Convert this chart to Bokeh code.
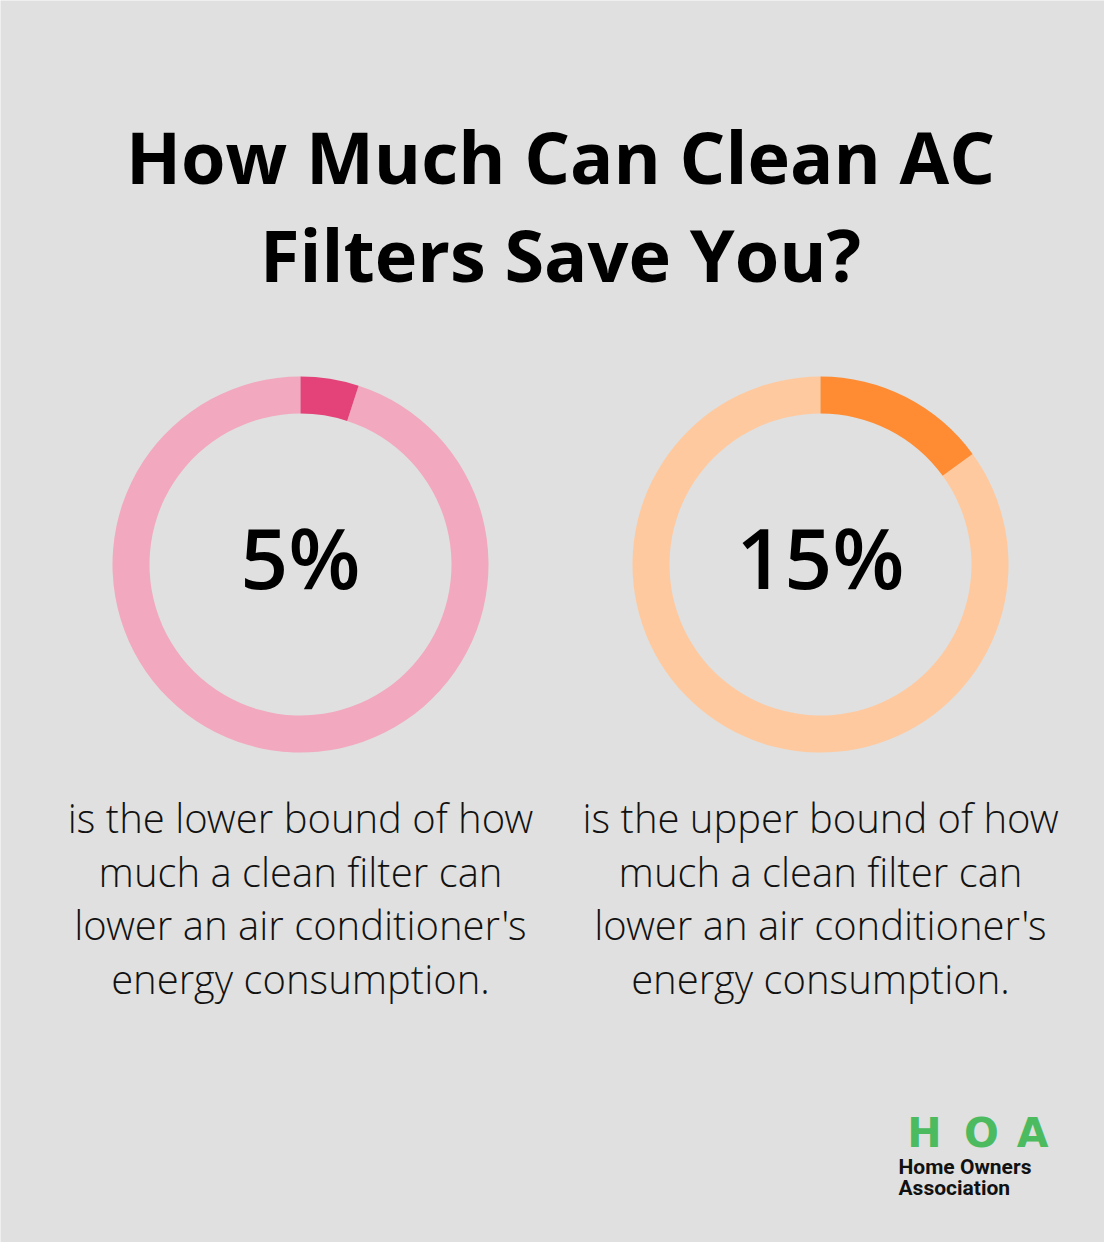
import math
from bokeh.plotting import figure
from bokeh.models import Range1d
from bokeh.core.properties import value
from bokeh.embed import file_html
from bokeh.resources import INLINE

# ---- data ----
title_lines = ["How Much Can Clean AC", "Filters Save You?"]
labels = ["5%", "15%"]
values = [5, 15]
descriptions = [
    ["is the lower bound of how", "much a clean filter can",
     "lower an air conditioner's", "energy consumption."],
    ["is the upper bound of how", "much a clean filter can",
     "lower an air conditioner's", "energy consumption."],
]
highlight_colors = ["#E4437A", "#FF8C33"]
track_colors = ["#F2A8BF", "#FFC99F"]
logo_letters = ["H", "O", "A"]
logo_sub = ["Home Owners", "Association"]

# ---- layout (pixel coords measured from top-left) ----
FW, FH = 1104, 1242
BG = "#DFE0DF"

def Y(y_img):
    return FH - y_img

def base(y_img, size):
    # compensate for where the renderer puts the alphabetic baseline
    return Y(y_img - 0.4 * size)

p = figure(width=FW, height=FH, output_backend="svg", toolbar_location=None,
           x_range=Range1d(0, FW), y_range=Range1d(0, FH),
           min_border=0, background_fill_color=BG, border_fill_color=BG,
           outline_line_color=None)
p.axis.visible = False
p.grid.visible = False

# title
TS = 72
for i, line in enumerate(title_lines):
    p.text(x=[560], y=[base(184 + i * 98, TS)], text=[line],
           text_font=value("Open Sans"), text_font_style="bold",
           text_font_size=f"{TS}px", text_align="center",
           text_baseline="alphabetic", text_color="#000000")

centers_x = [300, 820]
cy = Y(564)
r_out, r_in = 188, 151
NS = 84
DS = 40

for i, (lab, v) in enumerate(zip(labels, values)):
    frac = v / 100.0
    top = math.pi / 2
    # track (remaining part)
    p.annular_wedge(x=[centers_x[i]], y=[cy], inner_radius=r_in, outer_radius=r_out,
                    start_angle=top, end_angle=top - 2 * math.pi * frac + 2 * math.pi,
                    direction="anticlock", fill_color=track_colors[i], line_color=None)
    # highlighted share
    p.annular_wedge(x=[centers_x[i]], y=[cy], inner_radius=r_in, outer_radius=r_out,
                    start_angle=top - 2 * math.pi * frac, end_angle=top,
                    direction="anticlock", fill_color=highlight_colors[i], line_color=None)
    # big number
    p.text(x=[centers_x[i]], y=[base(590, NS)], text=[lab],
           text_font=value("Open Sans SemiBold"),
           text_font_size=f"{NS}px", text_align="center",
           text_baseline="alphabetic", text_color="#000000")
    # description
    for j, line in enumerate(descriptions[i]):
        p.text(x=[centers_x[i]], y=[base(833 + j * 53.7, DS)], text=[line],
               text_font=value("Open Sans Light"), text_font_size=f"{DS}px",
               text_align="center", text_baseline="alphabetic",
               text_color="#111111")

# logo
LS = 41
logo_x = [924, 981, 1032]
for lx, letter in zip(logo_x, logo_letters):
    p.text(x=[lx], y=[base(1149, LS)], text=[letter],
           text_font=value("DejaVu Sans"), text_font_style="bold",
           text_font_size=f"{LS}px", text_align="center",
           text_baseline="alphabetic", text_color="#4CBB5F")
SS = 21
for j, line in enumerate(logo_sub):
    p.text(x=[898], y=[base(1175 + j * 21, SS)], text=[line],
           text_font=value("Roboto"), text_font_style="bold",
           text_font_size=f"{SS}px", text_align="left",
           text_baseline="alphabetic", text_color="#111111")

open("out.html", "w").write(file_html(p, INLINE))
